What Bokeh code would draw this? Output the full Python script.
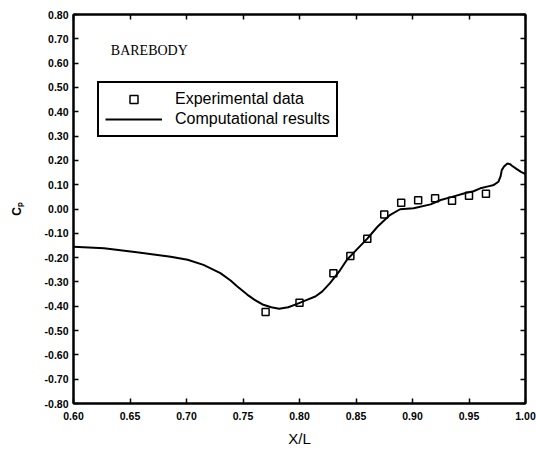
from bokeh.plotting import figure
from bokeh.models import (LinearAxis, FixedTicker, PrintfTickFormatter, Range1d,
                          Legend, LegendItem, Label, ColumnDataSource, CustomJSTickFormatter)
from bokeh.embed import file_html
from bokeh.resources import INLINE

# Computational results (curve)
cfd_x = [0.600, 0.627, 0.656, 0.686, 0.701, 0.715, 0.730, 0.739, 0.745, 0.754,
         0.760, 0.768, 0.775, 0.782, 0.790, 0.798, 0.806, 0.814, 0.820, 0.827,
         0.835, 0.842, 0.851, 0.860, 0.869, 0.880, 0.889, 0.901, 0.916, 0.925,
         0.935, 0.947, 0.954, 0.960, 0.966, 0.972, 0.976, 0.978, 0.979, 0.981,
         0.984, 0.9865, 0.988, 0.992, 0.996, 1.000]
cfd_cp = [-0.155, -0.161, -0.178, -0.196, -0.209, -0.230, -0.264, -0.294, -0.319, -0.353,
          -0.373, -0.394, -0.404, -0.410, -0.404, -0.390, -0.375, -0.360, -0.340, -0.305,
          -0.258, -0.209, -0.165, -0.122, -0.073, -0.025, -0.001, 0.003, 0.019, 0.037,
          0.050, 0.066, 0.073, 0.085, 0.092, 0.099, 0.112, 0.135, 0.160, 0.175,
          0.187, 0.184, 0.178, 0.165, 0.153, 0.143]

# Experimental data
exp_x = [0.77, 0.80, 0.83, 0.845, 0.86, 0.875, 0.89, 0.905, 0.92, 0.935, 0.95, 0.965]
exp_cp = [-0.424, -0.386, -0.264, -0.193, -0.122, -0.023, 0.026, 0.036, 0.044, 0.034, 0.055, 0.063]

x_ticks = [0.60, 0.65, 0.70, 0.75, 0.80, 0.85, 0.90, 0.95, 1.00]
y_ticks = [round(-0.8 + 0.1 * i, 2) for i in range(17)]

p = figure(width=536, height=449, output_backend="svg", toolbar_location=None,
           x_range=Range1d(0.6, 1.0), y_range=Range1d(-0.8, 0.8),
           min_border_left=73, min_border_right=11, min_border_top=14, min_border_bottom=45,
           x_axis_label="X/L", y_axis_label="Cₚ")
p.grid.visible = False
p.outline_line_color = "black"
p.outline_line_width = 2
p.background_fill_color = "white"
p.border_fill_color = "white"

lab_font = "Liberation Sans"
for ax in p.xaxis + p.yaxis:
    ax.major_tick_in = 5
    ax.major_tick_out = 0
    ax.minor_tick_in = 0
    ax.minor_tick_out = 0
    ax.axis_line_width = 2
    ax.major_tick_line_width = 1.5
    ax.major_label_text_font = lab_font
    ax.major_label_text_font_style = "bold"
    ax.major_label_text_font_size = "10.5px"
    ax.major_label_text_color = "black"
    ax.formatter = PrintfTickFormatter(format="%.2f")
    ax.axis_label_text_font = lab_font
    ax.axis_label_text_font_style = "normal"
    ax.axis_label_text_color = "black"

p.xaxis.ticker = FixedTicker(ticks=x_ticks)
p.yaxis.ticker = FixedTicker(ticks=y_ticks)
p.xaxis.major_label_standoff = 8
p.xaxis.axis_label_standoff = 7
p.xaxis.axis_label_text_font_size = "15px"
p.yaxis.major_label_standoff = 5
p.yaxis.axis_label_standoff = 18
p.yaxis.axis_label_text_font_size = "12px"
p.yaxis.axis_label_text_font_style = "bold"

for loc, tk in (("right", y_ticks), ("above", x_ticks)):
    ax = LinearAxis(ticker=FixedTicker(ticks=tk), major_tick_in=5, major_tick_out=0,
                    minor_tick_in=0, minor_tick_out=0, axis_line_width=2,
                    major_tick_line_width=1.5,
                    formatter=CustomJSTickFormatter(code="return ''"),
                    major_label_standoff=0)
    p.add_layout(ax, loc)

src_c = ColumnDataSource(dict(x=cfd_x, y=cfd_cp))
src_e = ColumnDataSource(dict(x=exp_x, y=exp_cp))
r_line = p.line("x", "y", source=src_c, line_color="black", line_width=2)
r_pts = p.scatter("x", "y", source=src_e, marker="square", size=7,
                  fill_color=None, line_color="black", line_width=1.5)

legend = Legend(items=[LegendItem(label="Experimental data", renderers=[r_pts]),
                       LegendItem(label="Computational results", renderers=[r_line])],
                location=(24, 266), orientation="vertical",
                border_line_color="black", border_line_width=2, border_line_alpha=1,
                background_fill_alpha=1, padding=6, spacing=0,
                glyph_width=57, glyph_height=20, label_height=20,
                label_standoff=13, label_text_font=lab_font,
                label_text_font_size="16px", label_text_color="black",
                margin=0)
p.add_layout(legend, "center")

p.add_layout(Label(x=0.633, y=0.652, text="BAREBODY", text_baseline="middle",
                   text_font="Liberation Serif", text_font_size="14px",
                   text_color="black"))

open("out.html", "w").write(file_html(p, INLINE))
